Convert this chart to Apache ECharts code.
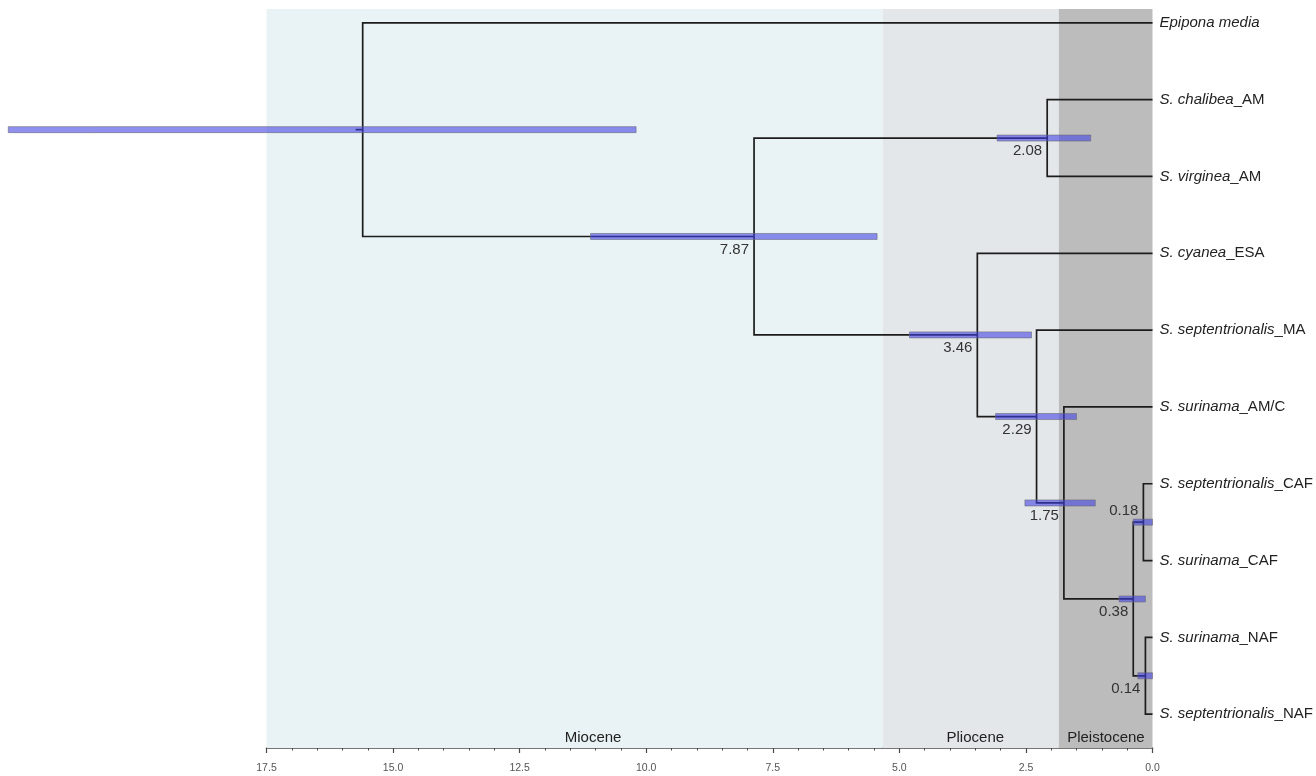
<!DOCTYPE html>
<html>
<head>
<meta charset="utf-8">
<script src="https://cdn.jsdelivr.net/npm/echarts@6/dist/echarts.min.js"></script>
<style>
  html, body { margin: 0; padding: 0; background: #ffffff; }
  #chart { width: 1316px; height: 776px; }
</style>
</head>
<body>
<div id="chart"></div>
<script>
// Time axis in millions of years (present at the right)
const axisMin = 0;
const axisMax = 17.5;
const axisStep = 2.5;

// Geological epochs drawn as background bands
const epochNames = ['Miocene', 'Pliocene', 'Pleistocene'];
const epochOld = [17.5, 5.33, 1.85];
const epochYoung = [5.33, 1.85, 0];
const epochLabelAge = [11.05, 3.5, 0.92];

// Terminal taxa, top to bottom
const tipTaxa = ['Epipona media', 'S. chalibea', 'S. virginea', 'S. cyanea', 'S. septentrionalis',
  'S. surinama', 'S. septentrionalis', 'S. surinama', 'S. surinama', 'S. septentrionalis'];
const tipRegions = ['', 'AM', 'AM', 'ESA', 'MA', 'AM/C', 'CAF', 'CAF', 'NAF', 'NAF'];

// Internal nodes: mean age, 95% HPD interval, children ('T#' = tip, 'N#' = node)
const nodeAges = [15.6, 7.87, 2.08, 3.46, 2.29, 1.75, 0.38, 0.18, 0.14];
const hpdOld = [22.6, 11.1, 3.07, 4.8, 3.1, 2.52, 0.66, 0.38, 0.29];
const hpdYoung = [10.2, 5.44, 1.22, 2.39, 1.5, 1.13, 0.14, 0.0, 0.0];
const nodeChildren = [
  ['T0', 'N1'], ['N2', 'N3'], ['T1', 'T2'], ['T3', 'N4'], ['T4', 'N5'],
  ['T5', 'N6'], ['N7', 'N8'], ['T6', 'T7'], ['T8', 'T9']
];
const nodeLabelled = [false, true, true, true, true, true, true, true, true];
const labelAboveNodes = new Set([7]);
const rootStem = 0.14;

// Tree layout in data units: tips on integer rows, nodes midway between children
function ageOf(ref) {
  return ref[0] === 'T' ? 0 : nodeAges[+ref.slice(1)];
}
function rowOf(ref) {
  const k = +ref.slice(1);
  if (ref[0] === 'T') return k;
  const c = nodeChildren[k];
  return (rowOf(c[0]) + rowOf(c[1])) / 2;
}
const nodeRows = nodeAges.map((_, i) => rowOf('N' + i));

const FONT = 'Arial, "Liberation Sans", Helvetica, sans-serif';
const epochColors = ['#E9F3F5', '#E4E7EA', '#BCBCBC'];

const chart = echarts.init(document.getElementById('chart'), null, { renderer: 'canvas' });

const option = {
  animation: false,
  backgroundColor: '#ffffff',
  grid: { left: 266.5, right: 163.5, top: 9, bottom: 28, outerBoundsMode: 'none' },
  xAxis: {
    type: 'value',
    min: axisMin,
    max: axisMax,
    interval: axisStep,
    inverse: true,
    position: 'bottom',
    axisLine: { show: true, onZero: false, lineStyle: { color: '#4a4a4a', width: 1.5 } },
    axisTick: { show: true, length: 5, lineStyle: { color: '#4a4a4a', width: 1.2 } },
    minorTick: { show: true, splitNumber: 5, length: 2.5, lineStyle: { color: '#4a4a4a', width: 1 } },
    splitLine: { show: false },
    axisLabel: {
      formatter: v => v.toFixed(1),
      fontFamily: FONT,
      fontSize: 10.5,
      color: '#555',
      margin: 15
    }
  },
  yAxis: {
    type: 'value',
    min: -0.18,
    max: 9.44,
    inverse: true,
    show: false
  },
  series: [
    {
      // epoch bands with their names along the bottom
      type: 'custom',
      z: 1,
      data: epochNames.map((n, i) => [epochOld[i], epochYoung[i], epochLabelAge[i]]),
      renderItem: function (params, api) {
        const i = params.dataIndex;
        const cs = params.coordSys;
        const a = api.coord([epochOld[i], 0]);
        const b = api.coord([epochYoung[i], 0]);
        const l = api.coord([epochLabelAge[i], 0]);
        return {
          type: 'group',
          children: [
            { type: 'rect', shape: { x: a[0], y: cs.y, width: b[0] - a[0], height: cs.height },
              style: { fill: epochColors[i] } },
            { type: 'text', x: l[0], y: cs.y + cs.height - 10,
              style: { text: epochNames[i], font: '15px ' + FONT, fill: '#222',
                       align: 'center', verticalAlign: 'middle' } }
          ]
        };
      }
    },
    {
      // branches
      type: 'custom',
      z: 2,
      clip: false,
      data: nodeAges.map((a, i) => [a, nodeRows[i]]),
      renderItem: function (params, api) {
        const i = params.dataIndex;
        const age = nodeAges[i];
        const kids = nodeChildren[i];
        const c1 = [ageOf(kids[0]), rowOf(kids[0])];
        const c2 = [ageOf(kids[1]), rowOf(kids[1])];
        const pts = [api.coord(c1), api.coord([age, c1[1]]), api.coord([age, c2[1]]), api.coord(c2)];
        const children = [
          { type: 'polyline', shape: { points: pts },
            style: { stroke: '#1c1c1c', lineWidth: 1.7, fill: 'none' } }
        ];
        if (i === 0) {
          const y0 = api.coord([0, nodeRows[0]])[1];
          children.push({ type: 'line',
            shape: { x1: api.coord([age + rootStem, 0])[0], y1: y0, x2: api.coord([age, 0])[0], y2: y0 },
            style: { stroke: '#1c1c1c', lineWidth: 1.7 } });
        }
        return { type: 'group', children };
      }
    },
    {
      // 95% HPD bars and node age labels
      type: 'custom',
      z: 3,
      clip: false,
      data: nodeAges.map((a, i) => [a, nodeRows[i]]),
      renderItem: function (params, api) {
        const i = params.dataIndex;
        const p = api.coord([nodeAges[i], nodeRows[i]]);
        const a = api.coord([hpdOld[i], nodeRows[i]]);
        const b = api.coord([hpdYoung[i], nodeRows[i]]);
        const children = [
          { type: 'rect', shape: { x: a[0], y: p[1] - 3, width: b[0] - a[0], height: 6 },
            style: { fill: 'rgba(62,62,228,0.58)', stroke: 'rgba(105,105,120,0.75)', lineWidth: 0.8 } }
        ];
        if (nodeLabelled[i]) {
          const above = labelAboveNodes.has(i);
          children.push({ type: 'text', x: p[0] - 5, y: p[1] + (above ? -11 : 13),
            style: { text: nodeAges[i].toFixed(2), font: '15px ' + FONT, fill: '#333',
                     align: 'right', verticalAlign: 'middle' } });
        }
        return { type: 'group', children };
      }
    },
    {
      // tip names
      type: 'custom',
      z: 4,
      clip: false,
      data: tipTaxa.map((t, i) => [0, i]),
      renderItem: function (params, api) {
        const i = params.dataIndex;
        const p = api.coord([0, i]);
        const text = tipRegions[i] ? '{it|' + tipTaxa[i] + '}{rg|_' + tipRegions[i] + '}' : '{it|' + tipTaxa[i] + '}';
        return {
          type: 'text', x: p[0] + 7, y: p[1],
          style: {
            text: text,
            align: 'left', verticalAlign: 'middle',
            rich: {
              it: { fontFamily: FONT, fontSize: 15, fontStyle: 'italic', fill: '#222' },
              rg: { fontFamily: FONT, fontSize: 15, fill: '#222' }
            }
          }
        };
      }
    }
  ]
};

chart.setOption(option);
</script>
</body>
</html>
